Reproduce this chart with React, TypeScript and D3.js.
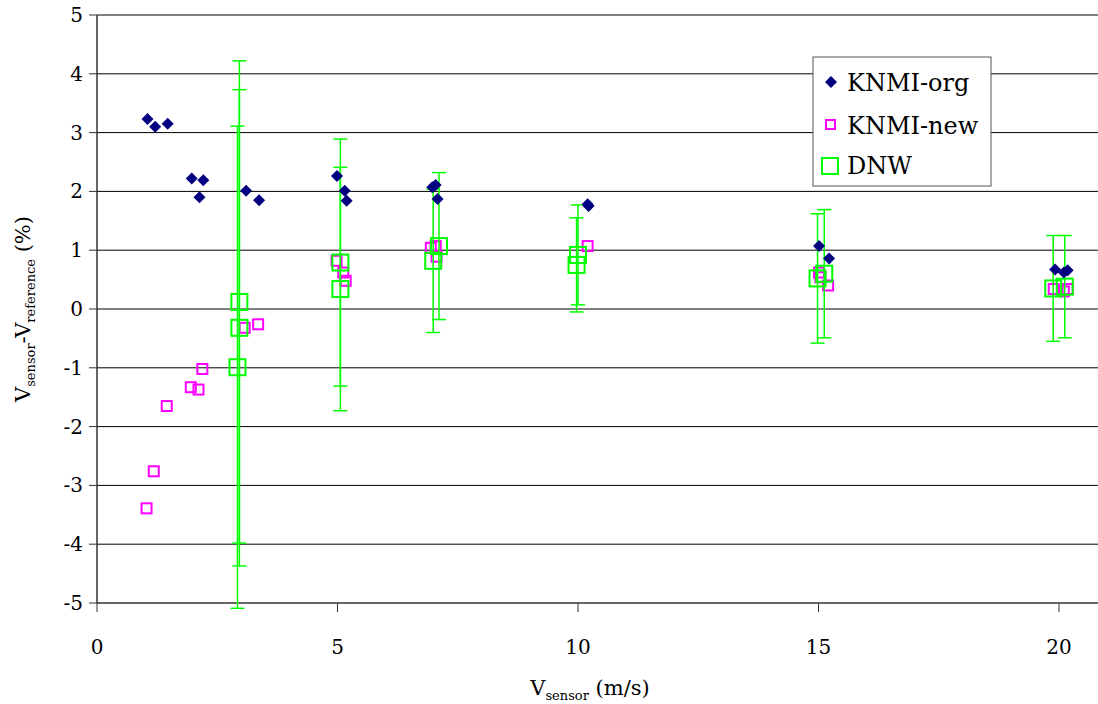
import React from "react";
import * as d3 from "d3";

const yTicks = [-5, -4, -3, -2, -1, 0, 1, 2, 3, 4, 5];
const xTicks = [0, 5, 10, 15, 20];

const knmiOrgX = [1.05, 1.21, 1.47, 1.97, 2.21, 2.13, 3.1, 3.37, 4.99, 5.15, 5.19, 6.97, 7.04, 7.08, 10.2, 10.22, 15.01, 15.22, 19.92, 20.18, 20.1];
const knmiOrgY = [3.23, 3.1, 3.15, 2.22, 2.19, 1.9, 2.01, 1.85, 2.26, 2.01, 1.84, 2.07, 2.11, 1.87, 1.78, 1.75, 1.07, 0.86, 0.67, 0.66, 0.62];

const knmiNewX = [3.07, 3.35, 2.19, 1.95, 2.11, 1.45, 1.18, 1.03, 4.98, 5.12, 5.17, 6.94, 7.04, 7.06, 10.2, 15.01, 15.04, 15.2, 19.89, 20.18, 20.1];
const knmiNewY = [-0.32, -0.26, -1.02, -1.33, -1.37, -1.65, -2.76, -3.39, 0.82, 0.62, 0.48, 1.04, 1.07, 0.89, 1.07, 0.62, 0.54, 0.4, 0.34, 0.34, 0.3];

const dnwX = [2.96, 2.96, 2.92, 5.06, 5.06, 6.99, 7.11, 10.0, 9.97, 14.98, 15.12, 19.88, 20.12];
const dnwY = [0.12, -0.32, -0.99, 0.79, 0.34, 0.82, 1.07, 0.92, 0.75, 0.52, 0.6, 0.35, 0.38];
const dnwErr = [4.1, 4.05, 4.1, 2.1, 2.07, 1.22, 1.25, 0.85, 0.8, 1.1, 1.09, 0.9, 0.87];

const legendLabels = ["KNMI-org", "KNMI-new", "DNW"];

const W = 1098;
const H = 704;
const FONT = '"DejaVu Serif", serif';

export default function App() {
  const x = d3.scaleLinear().domain([0, 20]).range([97, 1059]);
  const y = d3.scaleLinear().domain([-5, 5]).range([603, 15]);
  const left = x(0);
  const right = W;
  const diamond = (cx: number, cy: number, r: number) =>
    `M${cx},${cy - r}L${cx + r},${cy}L${cx},${cy + r}L${cx - r},${cy}Z`;
  const green = "#00ff00";
  const magenta = "#ff00ff";
  const navy = "#000080";
  const capW = 7;
  const ts = { fontFamily: FONT };

  return (
    <svg
      width={W}
      height={H}
      style={{ position: "absolute", left: 0, top: 0, background: "#fff", fontFamily: FONT }}
    >
      <rect x={0} y={0} width={W} height={H} fill="#fff" />
      {yTicks.map((t) => (
        <line key={"g" + t} x1={left} x2={right} y1={y(t)} y2={y(t)} stroke={t === -5 ? "#333" : "#000"} strokeWidth={t === -5 ? 1.5 : 1} />
      ))}
      <line x1={left} x2={left} y1={y(5)} y2={y(-5)} stroke="#333" strokeWidth={1.5} />
      {yTicks.map((t) => (
        <g key={"yt" + t}>
          <line x1={left - 8} x2={left} y1={y(t)} y2={y(t)} stroke="#333" strokeWidth={1} />
          <text style={ts} x={left - 14} y={y(t)} dy="0.35em" textAnchor="end" fontSize={20} fill="#000">
            {t < 0 ? "-" + Math.abs(t) : String(t)}
          </text>
        </g>
      ))}
      {xTicks.map((t) => (
        <g key={"xt" + t}>
          <line x1={x(t)} x2={x(t)} y1={y(-5)} y2={y(-5) + 9} stroke="#333" strokeWidth={1} />
          <text style={ts} x={x(t)} y={654} textAnchor="middle" fontSize={20} fill="#000">
            {String(t)}
          </text>
        </g>
      ))}
      {knmiNewX.map((vx, i) => (
        <rect key={"n" + i} x={x(vx) - 5} y={y(knmiNewY[i]) - 5} width={10} height={10} fill="none" stroke={magenta} strokeWidth={2} />
      ))}
      {dnwX.map((vx, i) => {
        const cx = x(vx);
        const top = y(dnwY[i] + dnwErr[i]);
        const bot = y(dnwY[i] - dnwErr[i]);
        return (
          <g key={"e" + i} stroke={green} strokeWidth={1.5}>
            <line x1={cx} x2={cx} y1={top} y2={bot} />
            <line x1={cx - capW} x2={cx + capW} y1={top} y2={top} />
            <line x1={cx - capW} x2={cx + capW} y1={bot} y2={bot} />
          </g>
        );
      })}
      {dnwX.map((vx, i) => (
        <rect key={"d" + i} x={x(vx) - 8} y={y(dnwY[i]) - 8} width={16} height={16} fill="none" stroke={green} strokeWidth={2} />
      ))}
      {knmiOrgX.map((vx, i) => (
        <path key={"o" + i} d={diamond(x(vx), y(knmiOrgY[i]), 6)} fill={navy} />
      ))}
      <g>
        <rect x={813} y={57} width={178} height={129} fill="#fff" stroke="#555" strokeWidth={1} />
        <path d={diamond(831, 82, 6)} fill={navy} />
        <text style={ts} x={847} y={91} fontSize={24} fill="#000">{legendLabels[0]}</text>
        <rect x={826} y={120} width={9} height={9} fill="none" stroke={magenta} strokeWidth={2} />
        <text style={ts} x={847} y={134} fontSize={24} fill="#000">{legendLabels[1]}</text>
        <rect x={822} y={158} width={16} height={16} fill="none" stroke={green} strokeWidth={2} />
        <text style={ts} x={847} y={174} fontSize={24} fill="#000">{legendLabels[2]}</text>
      </g>
      <text style={ts} x={590} y={695} textAnchor="middle" fontSize={21} fill="#000">
        V<tspan fontSize={13} dy={5}>sensor</tspan>
        <tspan dy={-5}> (m/s)</tspan>
      </text>
      <text style={ts} transform={`translate(30,${y(0)}) rotate(-90)`} textAnchor="middle" fontSize={21} fill="#000">
        V<tspan fontSize={13} dy={5}>sensor</tspan>
        <tspan dy={-5}>-V</tspan>
        <tspan fontSize={13} dy={5}>reference</tspan>
        <tspan dy={-5}> (%)</tspan>
      </text>
    </svg>
  );
}
